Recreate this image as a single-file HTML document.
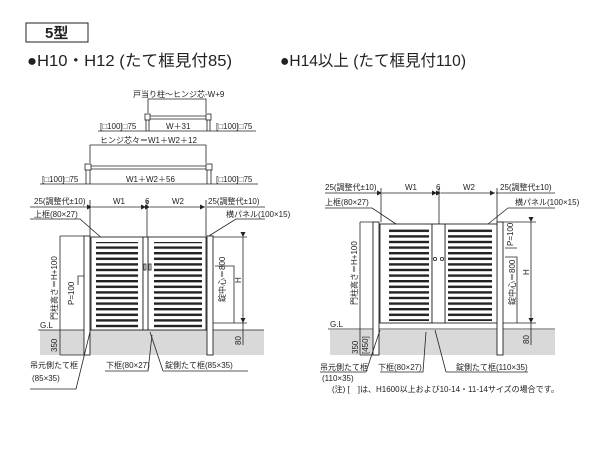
<!DOCTYPE html>
<html><head><meta charset="utf-8"><style>
html,body{margin:0;padding:0;background:#fff;width:600px;height:450px;overflow:hidden}
svg{display:block}
text{font-family:"Liberation Sans","Noto Sans CJK JP",sans-serif;fill:#222}
.s{font-size:8px}
</style></head><body>
<svg width="600" height="450" viewBox="0 0 600 450" xmlns="http://www.w3.org/2000/svg">
<defs>
<pattern id="sl" x="0" y="0" width="10" height="5.6" patternUnits="userSpaceOnUse">
<rect width="10" height="5.6" fill="#fff"/><rect y="0" width="10" height="2.4" fill="#222"/>
</pattern>
<marker id="ar" markerWidth="6" markerHeight="6" refX="5" refY="3" orient="auto" markerUnits="userSpaceOnUse"><path d="M0,0.5 L5,3 L0,5.5z" fill="#222"/></marker>
</defs>
<rect x="26" y="23" width="62" height="19" fill="#fff" stroke="#222" stroke-width="1"/>
<text x="45" y="38" font-size="15" font-weight="bold">5型</text>
<text x="27" y="66" font-size="16" textLength="205" lengthAdjust="spacingAndGlyphs">●H10・H12 (たて框見付85)</text>
<text x="280" y="66" font-size="16" textLength="186" lengthAdjust="spacingAndGlyphs">●H14以上 (たて框見付110)</text>

<!-- LEFT -->
<g stroke="#222" fill="none" stroke-width="0.8">
<path d="M148,113 V99 H206 V113"/>
<rect x="145" y="114" width="5" height="6" fill="#fff"/><rect x="206" y="114" width="5" height="6" fill="#fff"/>
<path d="M150,116 H206 M150,119 H206"/>
<path d="M146,120 V131 M149,120 V131 M207,120 V131 M210,120 V131"/>
<path d="M98,131 H256"/>
<path d="M90,163 V145 H206 V163"/>
<rect x="85" y="164" width="6" height="6" fill="#fff"/><rect x="206" y="164" width="6" height="6" fill="#fff"/>
<path d="M91,166 H206 M91,169 H206"/>
<path d="M86,170 V184 M90,170 V184 M207,170 V184 M211,170 V184"/>
<path d="M40,184 H258"/>
<path d="M30,207 H90" /><path d="M207,207 H265"/>
<path d="M92,207 H146" marker-start="url(#ar)" marker-end="url(#ar)"/>
<path d="M150,207 H205" marker-start="url(#ar)" marker-end="url(#ar)"/>
<path d="M147,200 V237 M90,200 V236 M206,200 V236"/>
<path d="M30,219 H80 L104,240"/>
<path d="M265,219 H236 L196,244"/>
</g>
<rect x="40" y="330" width="224" height="25" fill="#d9d9d9"/>
<path d="M38,330 H264" stroke="#222" stroke-width="0.8"/>
<g stroke="#222" stroke-width="0.9" fill="#fff">
<rect x="84" y="236" width="6" height="119"/>
<rect x="207" y="236" width="6" height="119"/>
<rect x="91" y="237" width="52" height="93"/>
<rect x="148" y="237" width="58" height="93"/>
<rect x="143" y="237" width="5" height="93"/>
</g>
<rect x="96" y="242" width="42" height="86" fill="url(#sl)"/>
<rect x="154" y="242" width="48" height="86" fill="url(#sl)"/>
<g stroke="#222" stroke-width="0.8" fill="none">
<rect x="144" y="264" width="2" height="6"/><rect x="149" y="264" width="2" height="6"/>
<path d="M60,236 V355 M60,236 H84 M60,355 H84"/>
<path d="M78,285 V276 H84"/>
<path d="M243,237 V323" marker-start="url(#ar)" marker-end="url(#ar)"/>
<path d="M213,237 H247 M213,323 H247 M243,323 V345"/>
<path d="M215,266 H234 V323"/>
<path d="M30,389 H76 L90,332"/>
<path d="M105,371 H148 L152,335"/>
<path d="M163,371 H248 M163,371 L150,332"/>
</g>
<text class="s" x="133" y="97">戸当り柱～ヒンジ芯-W+9</text>
<text class="s" x="100" y="129">[□100]□75</text>
<text class="s" x="166" y="129">W＋31</text>
<text class="s" x="216" y="129">[□100]□75</text>
<text class="s" x="100" y="143">ヒンジ芯々＝W1＋W2＋12</text>
<text class="s" x="42" y="182">[□100]□75</text>
<text class="s" x="126" y="182">W1＋W2＋56</text>
<text class="s" x="216" y="182">[□100]□75</text>
<text class="s" x="34" y="204">25(調整代±10)</text>
<text class="s" x="113" y="204">W1</text>
<text class="s" x="145" y="204">6</text>
<text class="s" x="172" y="204">W2</text>
<text class="s" x="208" y="204">25(調整代±10)</text>
<text class="s" x="34" y="217">上框(80×27)</text>
<text class="s" x="226" y="217">横パネル(100×15)</text>
<text class="s" x="40" y="328">G.L</text>
<text class="s" transform="translate(57,320) rotate(-90)">門柱高さ＝H+100</text>
<text class="s" transform="translate(74,305) rotate(-90)">P=100</text>
<text class="s" transform="translate(225,302) rotate(-90)">錠中心＝800</text>
<text class="s" transform="translate(241,283) rotate(-90)">H</text>
<text class="s" transform="translate(241,345) rotate(-90)">80</text>
<text class="s" transform="translate(57,352) rotate(-90)">350</text>
<text class="s" x="30" y="368">吊元側たて框</text>
<text class="s" x="32" y="381">(85×35)</text>
<text class="s" x="106" y="368">下框(80×27)</text>
<text class="s" x="165" y="368">錠側たて框(85×35)</text>

<!-- RIGHT -->
<rect x="330" y="330" width="225" height="25" fill="#d9d9d9"/>
<path d="M328,329 H555" stroke="#222" stroke-width="0.8"/>
<g stroke="#222" stroke-width="0.8" fill="none">
<path d="M325,193 H380 M496,193 H555"/>
<path d="M382,193 H437" marker-start="url(#ar)" marker-end="url(#ar)"/>
<path d="M441,193 H495" marker-start="url(#ar)" marker-end="url(#ar)"/>
<path d="M381,188 V222 M439,188 V224 M497,188 V222"/>
<path d="M325,208 H372 L402,228"/>
<path d="M555,208 H508 L478,232"/>
</g>
<g stroke="#222" stroke-width="0.9" fill="#fff">
<rect x="373" y="222" width="6" height="133"/>
<rect x="497" y="222" width="6" height="133"/>
<rect x="380" y="224" width="52" height="99"/>
<rect x="445" y="224" width="52" height="99"/>
<rect x="432" y="224" width="13" height="99"/>
</g>
<rect x="389" y="229" width="40" height="92" fill="url(#sl)"/>
<rect x="448" y="229" width="44" height="92" fill="url(#sl)"/>
<g stroke="#222" stroke-width="0.8" fill="none">
<circle cx="435" cy="259" r="1.6"/><circle cx="442" cy="259" r="1.6"/>
<path d="M360,222 V355 M360,222 H373 M360,355 H373"/>
<path d="M503,222 H536 M503,323 H536 M531,323 V345"/>
<path d="M531,222 V323" marker-start="url(#ar)" marker-end="url(#ar)"/>
<path d="M505,248 H517 M505,257 H517 V323"/>
<path d="M320,372 H366 L380,330"/>
<path d="M380,372 H423 L426,332"/>
<path d="M446,372 H528 M446,372 L435,330"/>
</g>
<text class="s" x="325" y="190">25(調整代±10)</text>
<text class="s" x="405" y="190">W1</text>
<text class="s" x="436" y="190">6</text>
<text class="s" x="463" y="190">W2</text>
<text class="s" x="500" y="190">25(調整代±10)</text>
<text class="s" x="325" y="205">上框(80×27)</text>
<text class="s" x="515" y="205">横パネル(100×15)</text>
<text class="s" x="330" y="327">G.L</text>
<text class="s" transform="translate(357,305) rotate(-90)">門柱高さ＝H+100</text>
<text class="s" transform="translate(513,246) rotate(-90)">P=100</text>
<text class="s" transform="translate(515,305) rotate(-90)">錠中心＝800</text>
<text class="s" transform="translate(529,275) rotate(-90)">H</text>
<text class="s" transform="translate(529,344) rotate(-90)">80</text>
<text class="s" transform="translate(358,354) rotate(-90)">350</text>
<text class="s" transform="translate(368,354) rotate(-90)">[450]</text>
<text class="s" x="320" y="370">吊元側たて框</text>
<text class="s" x="322" y="381">(110×35)</text>
<text class="s" x="378" y="370">下框(80×27)</text>
<text class="s" x="456" y="370">錠側たて框(110×35)</text>
<text class="s" x="332" y="392" font-size="7">(注) [　]は、H1600以上および10-14・11-14サイズの場合です。</text>
</svg>
</body></html>
